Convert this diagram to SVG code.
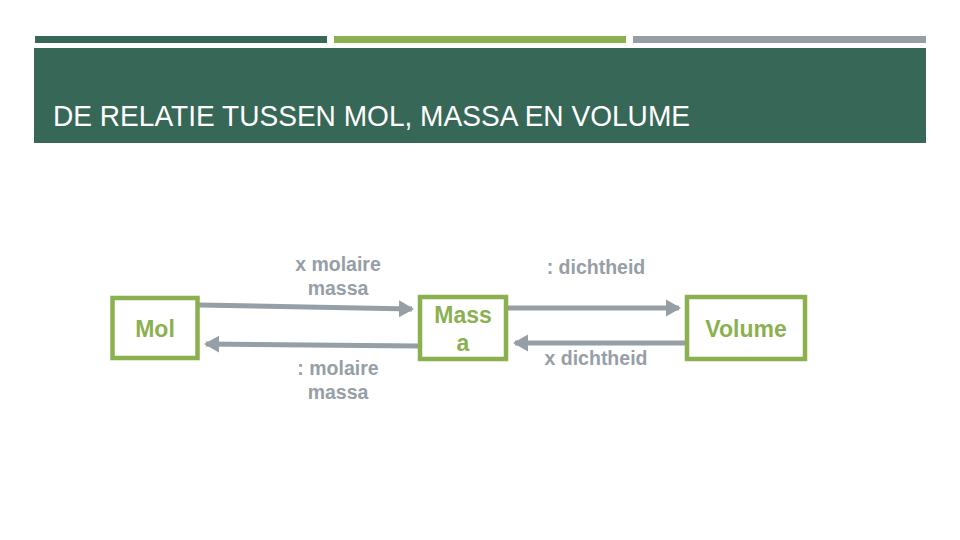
<svg xmlns="http://www.w3.org/2000/svg" width="960" height="540" viewBox="0 0 960 540">
<defs>
<marker id="ah" markerWidth="4" markerHeight="4" refX="2.6" refY="2" orient="auto" markerUnits="strokeWidth">
<path d="M0,0.3 L3,2 L0,3.7 Z" fill="#969EA6"/>
</marker>
<style>
.box{fill:#fff;stroke:#8BB04F;stroke-width:4.5}
.nt{font-family:"Liberation Sans",Arial,sans-serif;font-weight:bold;font-size:23px;fill:#8BB04F;text-anchor:middle}
.lt{font-family:"Liberation Sans",Arial,sans-serif;font-weight:bold;font-size:19.5px;fill:#969EA6;text-anchor:middle}
.ar{stroke:#969EA6;stroke-width:5;fill:none;marker-end:url(#ah)}
</style>
</defs>
<rect width="960" height="540" fill="#fff"/>
<rect x="35" y="36" width="292" height="7" fill="#376755"/>
<rect x="334" y="36" width="292" height="7" fill="#8BB04F"/>
<rect x="633" y="36" width="293" height="7" fill="#969EA6"/>
<rect x="34" y="48" width="892" height="95" fill="#376756"/>
<text x="53" y="126" font-family="Liberation Sans,Arial,sans-serif" font-size="29" fill="#fff" textLength="637" lengthAdjust="spacingAndGlyphs">DE RELATIE TUSSEN MOL, MASSA EN VOLUME</text>
<g id="connectors">
<path class="ar" d="M199,305 L412,309"/>
<path class="ar" d="M418,346 L206,344"/>
<path class="ar" d="M508,308 L679,308"/>
<path class="ar" d="M685,343 L515,343"/>
<text class="lt" x="338" y="271">x molaire</text>
<text class="lt" x="338" y="295">massa</text>
<text class="lt" x="338" y="375">: molaire</text>
<text class="lt" x="338" y="399">massa</text>
<text class="lt" x="596" y="274">: dichtheid</text>
<text class="lt" x="596" y="365">x dichtheid</text>
</g>
<g id="mol">
<rect class="box" x="112.5" y="298" width="85" height="60"/>
<text class="nt" x="155" y="337">Mol</text>
</g>
<g id="massa">
<rect class="box" x="420" y="297" width="86" height="62"/>
<text class="nt" x="463" y="323">Mass</text>
<text class="nt" x="463" y="351">a</text>
</g>
<g id="volume">
<rect class="box" x="687" y="297" width="118" height="62"/>
<text class="nt" x="746" y="337">Volume</text>
</g>
</svg>
